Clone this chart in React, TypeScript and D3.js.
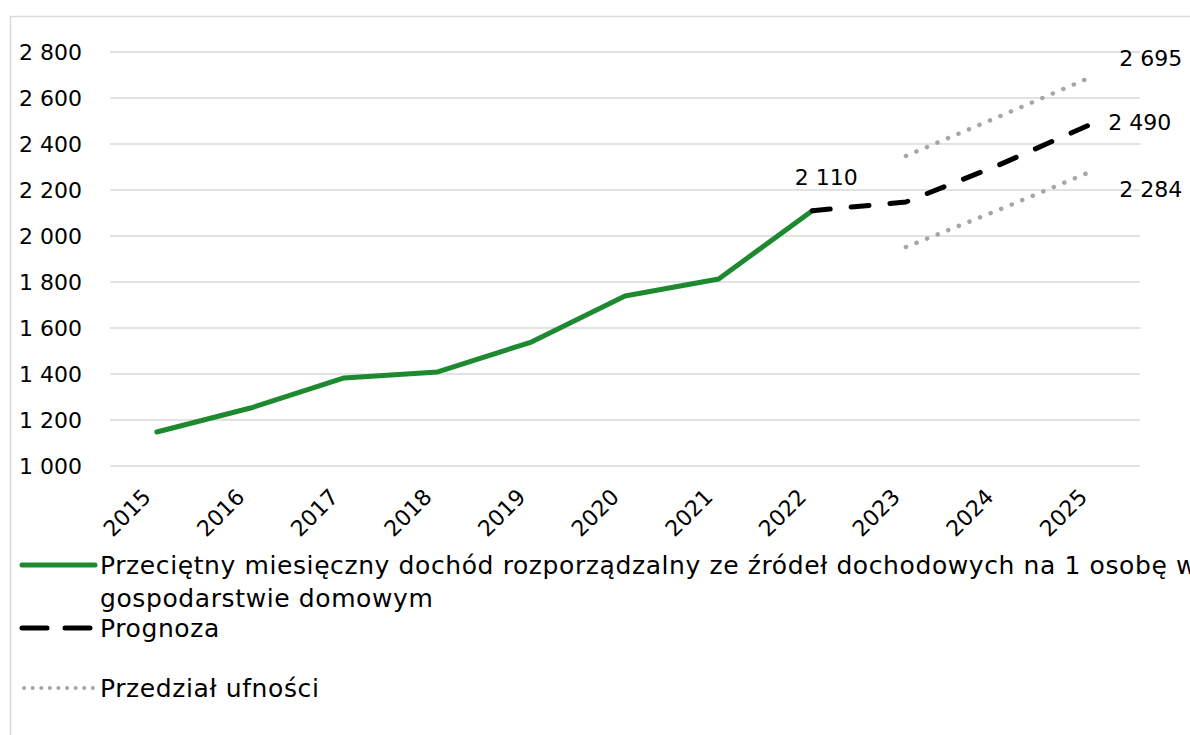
import React from "react";
import * as d3 from "d3";

const years = ["2015","2016","2017","2018","2019","2020","2021","2022","2023","2024","2025"];
const actual = [1148, 1252, 1383, 1409, 1539, 1739, 1813, 2110];
const forecastYears = ["2022","2023","2024","2025"];
const forecast = [2110, 2148, 2310, 2490];
const ciYears = ["2023","2024","2025"];
const ciUpper = [2348, 2520, 2695];
const ciLower = [1952, 2115, 2284];
const yTicks = [1000, 1200, 1400, 1600, 1800, 2000, 2200, 2400, 2600, 2800];
const legendLabels = [
  "Przeciętny miesięczny dochód rozporządzalny ze źródeł dochodowych na 1 osobę w",
  "gospodarstwie domowym",
  "Prognoza",
  "Przedział ufności",
];

const W = 1190, H = 735;
const FONT = "'DejaVu Sans', sans-serif";
const fmt = (v: number) => d3.format(",")(v).replace(/,/g, " ");

export default function App() {
  const x = d3.scaleBand<string>().domain(years).range([110, 1140]);
  const cx = (yr: string) => (x(yr) as number) + x.bandwidth() / 2;
  const y = d3.scaleLinear().domain([1000, 2800]).range([466, 52]);

  const line = d3.line<[string, number]>().x(d => cx(d[0])).y(d => y(d[1]));
  const actualPath = line(actual.map((v, i) => [years[i], v]))!;
  const forecastPath = line(forecast.map((v, i) => [forecastYears[i], v]))!;
  const upperPath = line(ciUpper.map((v, i) => [ciYears[i], v]))!;
  const lowerPath = line(ciLower.map((v, i) => [ciYears[i], v]))!;

  const last = years[years.length - 1];
  const lx = cx(last);
  const legendStyle = { letterSpacing: "0.6px" };

  return (
    <svg width={W} height={H} style={{ position: "absolute", left: 0, top: 0 }} fontFamily={FONT}>
      <rect x={0} y={0} width={W} height={H} fill="#fff" />
      <rect x={10.5} y={16.5} width={1300} height={800} fill="none" stroke="#d9d9d9" strokeWidth={1.5} />
      {yTicks.map(t => (
        <g key={t}>
          <line x1={110} x2={1140} y1={y(t)} y2={y(t)} stroke="#d9d9d9" strokeWidth={1.5} />
          <text x={19} y={y(t)} dy="0.35em" fontSize={22} fill="#000">{fmt(t)}</text>
        </g>
      ))}
      {years.map(yr => (
        <text key={yr} transform={`translate(${cx(yr) - 10},${493}) rotate(-45)`} textAnchor="end"
          dy="0.35em" fontSize={22} fill="#000">{yr}</text>
      ))}
      <path d={upperPath} fill="none" stroke="#a6a6a6" strokeWidth={4.5} strokeLinecap="round" strokeDasharray="0.1 11.3" />
      <path d={lowerPath} fill="none" stroke="#a6a6a6" strokeWidth={4.5} strokeLinecap="round" strokeDasharray="0.1 11.3" />
      <path d={actualPath} fill="none" stroke="#1e8a30" strokeWidth={5} strokeLinejoin="round" strokeLinecap="round" />
      <path d={forecastPath} fill="none" stroke="#000" strokeWidth={5} strokeLinecap="round" strokeLinejoin="round" strokeDasharray="18 21" />
      <text x={cx("2022") + 14} y={y(2110) - 33} textAnchor="middle" dy="0.35em" fontSize={22}>{fmt(2110)}</text>
      <text x={lx + 26} y={y(2695) - 18} dy="0.35em" fontSize={22}>{fmt(2695)}</text>
      <text x={lx + 15} y={y(2490) - 1} dy="0.35em" fontSize={22}>{fmt(2490)}</text>
      <text x={lx + 26} y={y(2284) + 19} dy="0.35em" fontSize={22}>{fmt(2284)}</text>
      {/* legend */}
      <line x1={22} x2={95} y1={565} y2={565} stroke="#1e8a30" strokeWidth={5} strokeLinecap="round" />
      <text x={100} y={565} dy="0.35em" fontSize={25} style={legendStyle}>{legendLabels[0]}</text>
      <text x={100} y={598} dy="0.35em" fontSize={25} style={legendStyle}>{legendLabels[1]}</text>
      <line x1={22} x2={95} y1={628} y2={628} stroke="#000" strokeWidth={5} strokeLinecap="round" strokeDasharray="25 18" />
      <text x={100} y={628} dy="0.35em" fontSize={25} style={legendStyle}>{legendLabels[2]}</text>
      <line x1={24} x2={95} y1={688} y2={688} stroke="#a6a6a6" strokeWidth={4} strokeLinecap="round" strokeDasharray="0.1 8.5" />
      <text x={100} y={688} dy="0.35em" fontSize={25} style={legendStyle}>{legendLabels[3]}</text>
    </svg>
  );
}
